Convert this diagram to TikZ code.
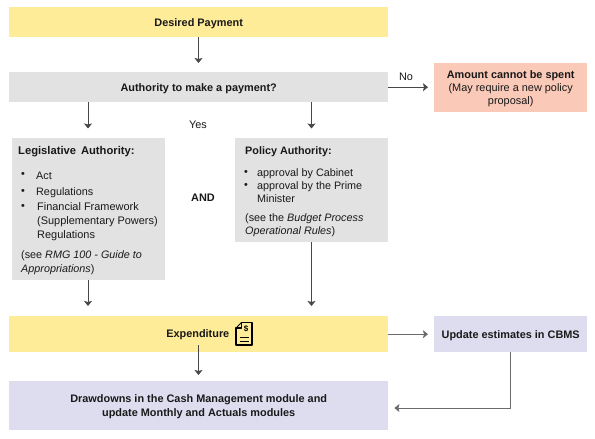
\documentclass[tikz,border=0pt]{standalone}
\usepackage{fontspec}
\setmainfont{Liberation Sans}
\usetikzlibrary{arrows.meta}
\definecolor{yel}{HTML}{FEEC98}
\definecolor{gry}{HTML}{E2E2E2}
\definecolor{lav}{HTML}{DEDDF0}
\definecolor{sal}{HTML}{FAC9B8}
\tikzset{x=1pt,y=-1pt,
 box/.style={inner sep=0pt,anchor=north west},
 txt/.style={inner sep=0pt,align=center,font=\fontsize{10.9}{13}\selectfont,text=black!90},
 lab/.style={label={[txt,yshift=-1pt]center:{#1}}},
 lab14/.style={label={[txt,yshift=-1pt,font=\fontsize{10.9}{14}\selectfont]center:{#1}}},
 link/.style={draw=black!72,line width=.9pt,-{Stealth[length=5pt,width=8pt,inset=1pt]}},
 linklight/.style={link,draw=black!58},
 body/.style={font=\fontsize{10.8}{14}\selectfont,inner sep=0pt,align=left,anchor=west,text=black!90},
 bodyb/.style={body,anchor=north west,font=\fontsize{10.8}{13}\selectfont}}
\begin{document}
\begin{tikzpicture}
\useasboundingbox (0,0) rectangle (595,439);
\fill[white] (0,0) rectangle (595,439);
\node[box,fill=yel,minimum width=379pt,minimum height=30pt,lab={\textbf{Desired Payment}}] (dp) at (9,7) {};
\node[box,fill=gry,minimum width=379pt,minimum height=30pt,lab={\textbf{Authority to make a payment?}}] (auth) at (9,72) {};
\node[box,fill=sal,minimum width=153pt,minimum height=49pt,lab={\textbf{Amount cannot be spent}\\(May require a new policy\\proposal)}] (no) at (434,63) {};
\node[box,fill=gry,minimum width=153pt,minimum height=142pt] (leg) at (12,138) {};
\node[box,fill=gry,minimum width=153pt,minimum height=104pt] (pol) at (235,138) {};
\node[box,fill=yel,minimum width=379pt,minimum height=36pt] (exp) at (9,316) {};
\node[box,fill=lav,minimum width=153pt,minimum height=36pt,lab={\textbf{Update estimates in CBMS}}] (upd) at (434,316) {};
\node[box,fill=lav,minimum width=379pt,minimum height=49pt,lab14={\textbf{Drawdowns in the Cash Management module and}\\\textbf{update Monthly and Actuals modules}}] (dd) at (9,381) {};
\node[txt,anchor=east] (exptxt) at (229.5,335) {\textbf{Expenditure}};
\node[txt] (yes) at (198,124.5) {Yes};
\node[txt] (and) at (203,197.5) {\textbf{AND}};
\node[txt] (nol) at (406,77) {No};
\node[body,font=\fontsize{11.2}{14}\selectfont] (lt) at (18,152) {\textbf{Legislative\, Authority:}};
\node[body] (la) at (36,175.5) {Act};
\node[body] (lb) at (36,192.5) {Regulations};
\node[body,anchor=north west,font=\fontsize{10.95}{14}\selectfont] (lc) at (37,202.5) {Financial Framework\\(Supplementary Powers)\\Regulations};
\foreach \y in {174.5,191.5,206.5} \node[body,anchor=center] at (23,\y) {•};
\node[bodyb,font=\fontsize{10.8}{14}\selectfont] (ls) at (21,250) {(see \textit{RMG 100 - Guide to}\\\textit{Appropriations})};
\node[body] (pt) at (245,151.5) {\textbf{Policy Authority:}};
\node[body] (pa) at (257,173.5) {approval by Cabinet};
\node[bodyb] (pb) at (257,181) {approval by the Prime\\Minister};
\foreach \y in {172.5,185.5} \node[body,anchor=center] at (246,\y) {•};
\node[bodyb] (ps) at (245,213.5) {(see the \textit{Budget Process}\\\textit{Operational Rules})};
% icon
\draw[black,line width=1.2pt,line join=round] (241.5,322.5)--(252,322.5)--(252,345)--(236,345)--(236,328)--(241.5,328)--cycle;
\draw[black,line width=1pt] (241.5,322.5)--(236,328);
\draw[black,line width=1pt] (239.5,337)--(249,337) (239.5,341)--(249,341);
\node[font=\fontsize{8}{8}\selectfont\bfseries,inner sep=0pt] at (246,329) {\$};
% connectors
\draw[link,shorten >=9pt] (dp.south -| 198.5,0) -- (auth.north -| 198.5,0);
\draw[link,shorten >=6pt] (auth.east) -- (no.west |- auth.east);
\draw[link,shorten >=9.5pt] (auth.south -| 88,0) -- (leg.north -| 88,0);
\draw[link,shorten >=9.5pt] (auth.south -| 311.5,0) -- (pol.north -| 311.5,0);
\draw[link,shorten >=10pt] (leg.south -| 88,0) -- (exp.north -| 88,0);
\draw[link,shorten >=10pt] (pol.south -| 311.5,0) -- (exp.north -| 311.5,0);
\draw[link,shorten >=6pt,shorten <=-7pt] (exp.south -| 198.5,0) -- (dd.north -| 198.5,0);
\draw[linklight,shorten >=6pt] (exp.east) -- (upd.west |- exp.east);
\draw[linklight,shorten >=6pt] (upd.south -| 510,0) -- (510,408) -- (dd.east |- 0,408);
\end{tikzpicture}
\end{document}
